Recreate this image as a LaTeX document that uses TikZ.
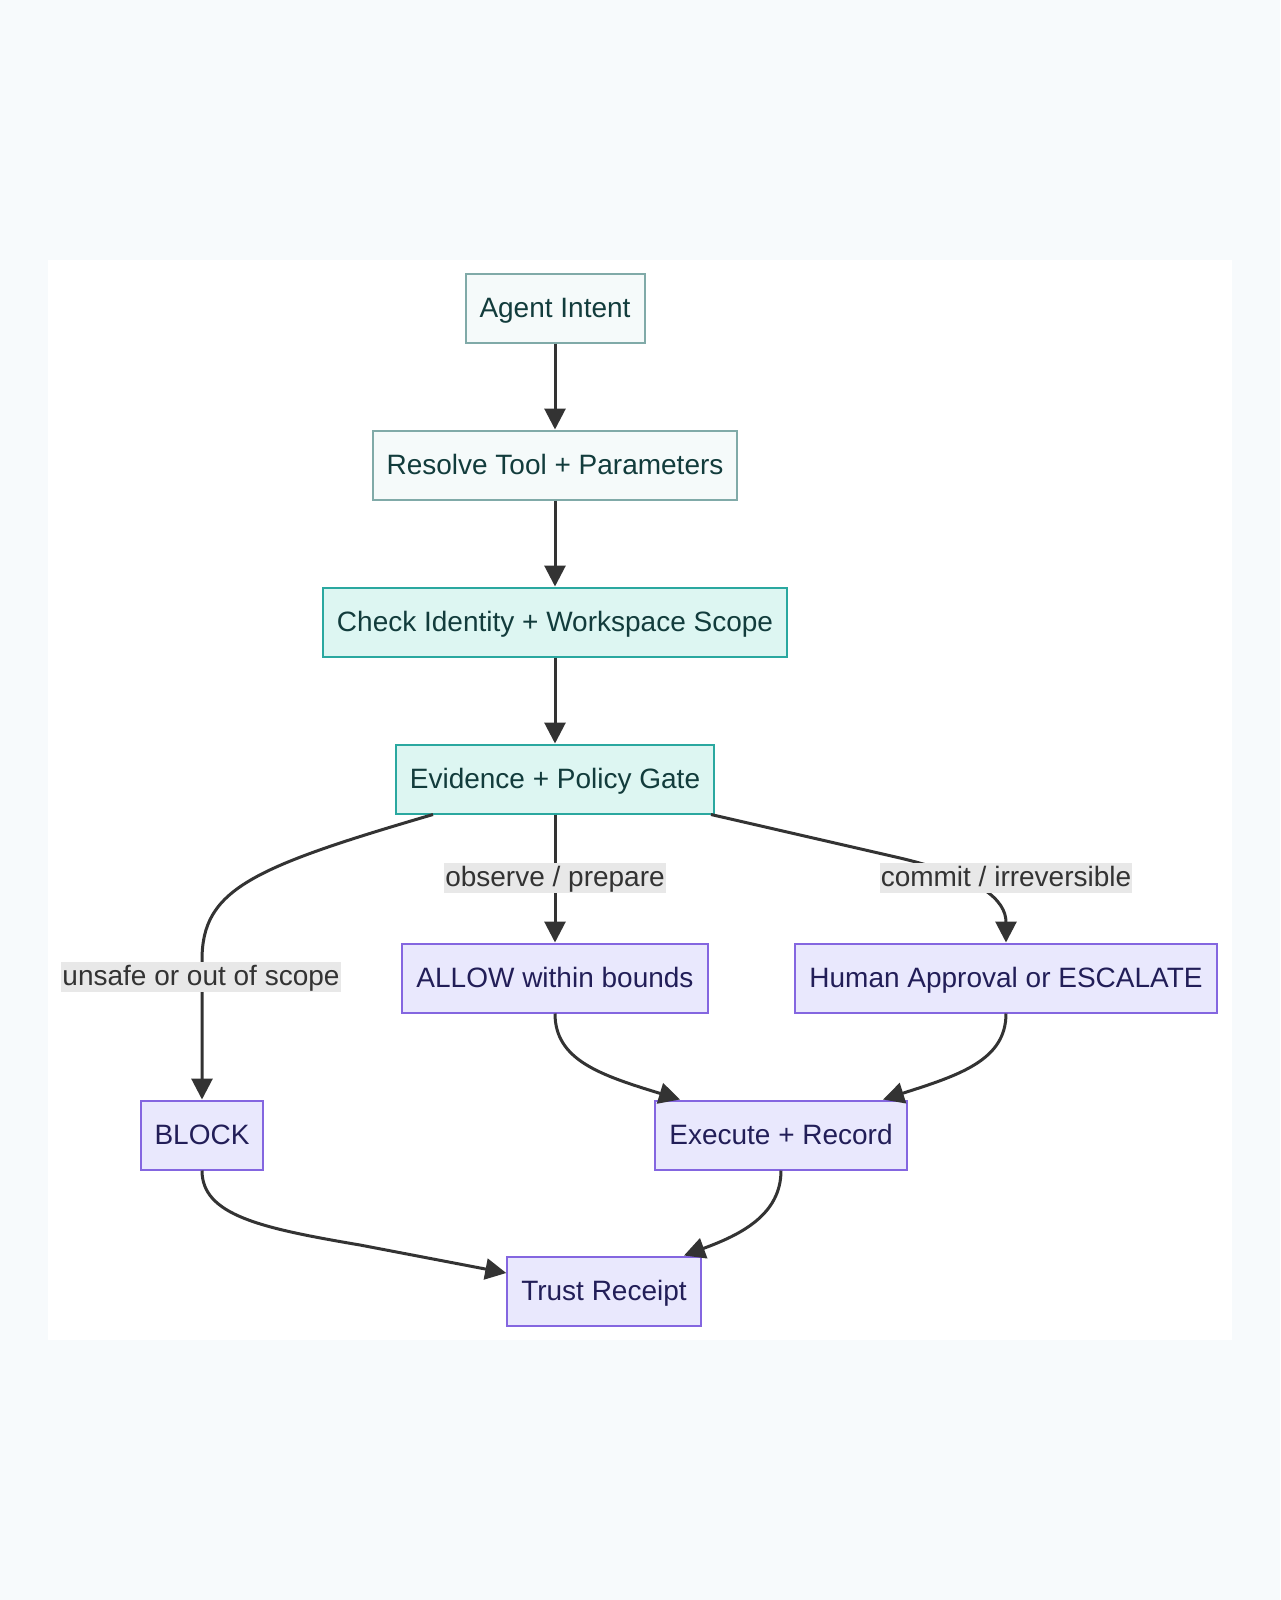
\documentclass[tikz,border=0pt]{standalone}
\usepackage{fontspec}
\setmainfont{Liberation Sans}
\usetikzlibrary{arrows.meta}
\definecolor{pagebg}{HTML}{F7FAFC}
\definecolor{softfill}{HTML}{F5FAFA}
\definecolor{softline}{HTML}{80AAA8}
\definecolor{tealfill}{HTML}{DDF6F2}
\definecolor{tealline}{HTML}{2AA8A0}
\definecolor{tealtext}{HTML}{123C3C}
\definecolor{purpfill}{HTML}{E9E8FD}
\definecolor{purpline}{HTML}{8466E0}
\definecolor{purptext}{HTML}{221E58}
\definecolor{edgecol}{HTML}{333333}
\definecolor{lblfill}{HTML}{E8E8E8}
\tikzset{
  base/.style={draw, line width=2pt, minimum height=69pt, inner xsep=14pt,
    text height=22pt, text depth=4pt,
    font=\fontsize{28}{32}\selectfont},
  softbox/.style={base, fill=softfill, draw=softline, text=tealtext},
  tealbox/.style={base, fill=tealfill, draw=tealline, text=tealtext},
  purpbox/.style={base, fill=purpfill, draw=purpline, text=purptext},
  lbl/.style={fill=lblfill, text=edgecol, inner xsep=1pt, inner ysep=2pt,
    text height=21pt, text depth=5pt, font=\fontsize{28}{32}\selectfont},
  conn/.style={draw=edgecol, line width=3pt, -{Triangle[length=21pt,width=21pt]}},
}
\begin{document}
\begin{tikzpicture}[x=1pt,y=-1pt]
\useasboundingbox (0,0) rectangle (1280,1600);
\fill[pagebg] (0,0) rectangle (1280,1600);
\fill[white] (48,260) rectangle (1232,1340);

\node[softbox] (intent) at (555,308) {Agent Intent};
\node[softbox] (resolve) at (555,465) {Resolve Tool + Parameters};
\node[tealbox] (check) at (555,622) {Check Identity + Workspace Scope};
\node[tealbox] (ev) at (555,779) {Evidence + Policy Gate};
\node[purpbox] (allow) at (555,978) {ALLOW within bounds};
\node[purpbox] (human) at (1006,978) {Human Approval or ESCALATE};
\node[purpbox] (block) at (202,1135) {BLOCK};
\node[purpbox] (exec) at (781,1135) {Execute + Record};
\node[purpbox] (trust) at (604,1291) {Trust Receipt};

\draw[conn] (intent) -- (resolve);
\draw[conn] (resolve) -- (check);
\draw[conn] (check) -- (ev);
\draw[conn] (ev) -- (allow);
\draw[conn] ([xshift=-122pt]ev.south) .. controls (250,868) and (202,890) .. (202,960) -- (block.north);
\draw[conn] ([xshift=156pt]ev.south) -- (900,858) .. controls (980,877) and (1006,900) .. (human.north);
\draw[conn] (allow.south) .. controls (555,1060) and (600,1075) .. ([xshift=-101pt]exec.north);
\draw[conn] (human.south) .. controls (1006,1060) and (960,1075) .. ([xshift=102pt]exec.north);
\draw[conn] (block.south) .. controls (202,1215) and (260,1228) .. (360,1245) -- ([yshift=18pt]trust.west);
\draw[conn] (exec.south) .. controls (781,1215) and (740,1235) .. ([xshift=80pt]trust.north);

\node[lbl] (l1) at (555,878) {observe / prepare};
\node[lbl] (l2) at (1006,878) {commit / irreversible};
\node[lbl] (l3) at (201,977) {unsafe or out of scope};
\end{tikzpicture}
\end{document}
